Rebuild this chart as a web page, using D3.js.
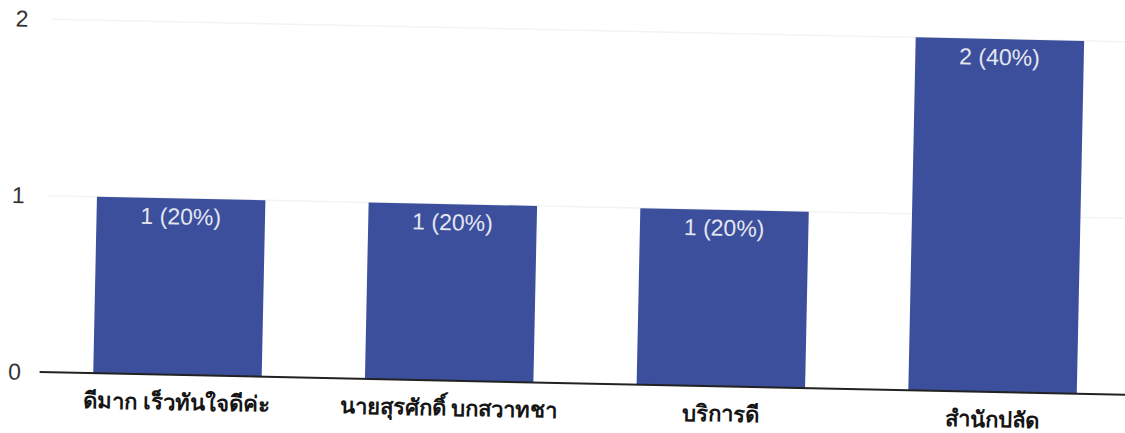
<!DOCTYPE html>
<html>
<head>
<meta charset="utf-8">
<script src="https://cdn.jsdelivr.net/npm/d3@7"></script>
<style>
  body { margin: 0; background: #fff; }
</style>
</head>
<body>
<div id="chart"></div>
<script>
// data
var categories = ["ดีมาก เร็วทันใจดีค่ะ", "นายสุรศักดิ์ บกสวาทชา", "บริการดี", "สำนักปลัด"];
var counts = [1, 1, 1, 2];
var percents = [20, 20, 20, 40];
var yTicks = [0, 1, 2];

var width = 1125, height = 433;
var svg = d3.select("#chart").append("svg")
    .attr("width", width)
    .attr("height", height);

// scan is a little tilted, so tilt the whole drawing
var g = svg.append("g")
    .attr("transform", "rotate(1.2," + (width / 2) + "," + (height / 2) + ")");

var x = d3.scaleBand()
    .domain(categories)
    .range([45, 1132])
    .paddingInner(0.38)
    .paddingOuter(0.19);

var y = d3.scaleLinear()
    .domain([0, 2])
    .range([383, 30]);

// faint grid
g.append("g")
  .selectAll("line")
  .data(yTicks.slice(1))
  .join("line")
    .attr("x1", 48).attr("x2", 1125)
    .attr("y1", d => y(d)).attr("y2", d => y(d))
    .attr("stroke", "#f3f3f3")
    .attr("stroke-width", 1.5);

// y labels
g.append("g")
  .selectAll("text")
  .data(yTicks)
  .join("text")
    .attr("x", 18)
    .attr("y", d => y(d))
    .attr("dy", "0.35em")
    .attr("text-anchor", "middle")
    .attr("font-family", "Liberation Sans, Arial, sans-serif")
    .attr("font-size", 23)
    .attr("fill", "#333")
    .text(d => d);

var data = categories.map((c, i) => ({cat: c, n: counts[i], p: percents[i]}));

g.append("g")
  .selectAll("rect")
  .data(data)
  .join("rect")
    .attr("x", d => x(d.cat))
    .attr("y", d => y(d.n))
    .attr("width", x.bandwidth())
    .attr("height", d => y(0) - y(d.n))
    .attr("fill", "#3c4f9d");

g.append("g")
  .selectAll("text")
  .data(data)
  .join("text")
    .attr("x", d => x(d.cat) + x.bandwidth() / 2)
    .attr("y", d => y(d.n) + 26)
    .attr("text-anchor", "middle")
    .attr("font-family", "Liberation Sans, Arial, sans-serif")
    .attr("font-size", 23)
    .attr("fill", "#e4e6f0")
    .text(d => d.n + " (" + d.p + "%)");

// baseline
g.append("line")
    .attr("x1", 43).attr("x2", 1130)
    .attr("y1", y(0)).attr("y2", y(0))
    .attr("stroke", "#222")
    .attr("stroke-width", 2);

// category labels
g.append("g")
  .selectAll("text")
  .data(categories)
  .join("text")
    .attr("x", d => x(d) + x.bandwidth() / 2)
    .attr("y", y(0) + 35)
    .attr("text-anchor", "middle")
    .attr("font-family", "Tahoma, 'Noto Sans', 'DejaVu Sans', sans-serif")
    .attr("font-size", 22)
    .attr("font-weight", "bold")
    .attr("fill", "#151515")
    .text(d => d);
</script>
</body>
</html>
